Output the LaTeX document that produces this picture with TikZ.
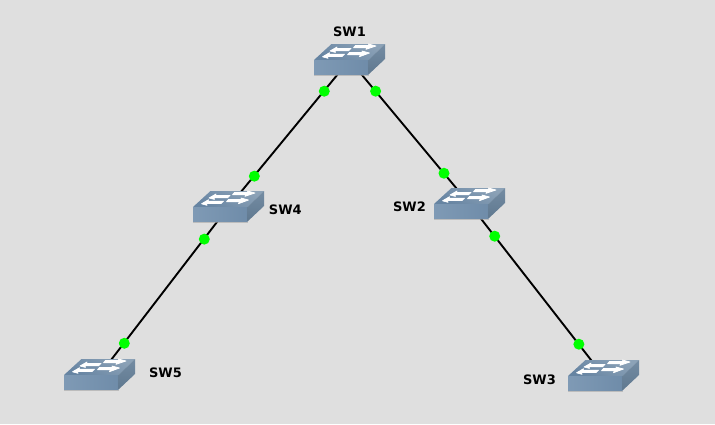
\documentclass[tikz,border=0pt]{standalone}
\usepackage{fontspec}
\setmainfont{DejaVu Sans}
\definecolor{bgc}{HTML}{DFDFDF}
\definecolor{topa}{HTML}{6684A2}
\definecolor{topb}{HTML}{8CA2B7}
\definecolor{fronta}{HTML}{7F9AB5}
\definecolor{frontb}{HTML}{6F8CA9}
\definecolor{sidea}{HTML}{748CA3}
\definecolor{sideb}{HTML}{5F788F}
\definecolor{linkgreen}{HTML}{00FF00}
\tikzset{
  x=1pt,y=-1pt,
  swnode/.style={inner sep=0pt,minimum width=71pt,minimum height=32pt},
  link/.style={draw=black,line width=1.9pt},
  dot/.style={circle,fill=linkgreen,inner sep=0pt,minimum size=11pt,xshift=.3pt,yshift=-.2pt},
  lab/.style={font=\bfseries\fontsize{13}{15}\selectfont,text=black,inner sep=0pt},
  arrowshape/.style={fill=white,draw=white,line width=.7pt,line join=round},
  swicon/.pic={
    % origin = icon centre; icon spans 71x32
    \shade[bottom color=topa,top color=topb,shading angle=-30] (-35.5,0) -- (-18,-16) -- (35.5,-16) -- (19,0) -- cycle;
    \shade[left color=fronta,right color=frontb] (-35.5,0) -- (19,0) -- (19,14.5) -- (-35.5,14.5) -- cycle;
    \shade[top color=sidea,bottom color=sideb] (19,0) -- (35.5,-16) -- (35.5,-1) -- (19,14.5) -- cycle;
    \fill[black!35,opacity=.6] (-35.5,14.5) -- (19,14.5) -- (19,15.6) -- (-35.5,15.6) -- cycle;
    % left-pointing arrows
    \path[arrowshape] (-19.5,-9) -- (-12.5,-13) -- (-13,-11.6) -- (1.5,-11.6) -- (-1,-9.2) -- (-14.5,-9.2) -- (-14,-7.6) -- cycle;
    \path[arrowshape] (-27,-3.2) -- (-20,-7.3) -- (-20.5,-5.9) -- (-5,-5.9) -- (-7.5,-3.5) -- (-22,-3.5) -- (-21.5,-1.7) -- cycle;
    % right-pointing arrows
    \path[arrowshape] (26.5,-14) -- (19,-16) -- (19.5,-14.6) -- (6,-14.6) -- (4,-12.2) -- (17.5,-12.2) -- (16.5,-10.7) -- cycle;
    \path[arrowshape] (20,-7) -- (12.5,-9) -- (13,-7.6) -- (0,-7.6) -- (-2,-5.2) -- (11,-5.2) -- (10,-3.3) -- cycle;
  }
}
\begin{document}
\begin{tikzpicture}
\fill[bgc] (0,0) rectangle (715,424);
\useasboundingbox (0,0) rectangle (715,424);
\node[swnode] (sw1) at (349.5,60) {};
\node[swnode] (sw2) at (469.5,204) {};
\node[swnode] (sw3) at (603.5,376) {};
\node[swnode] (sw4) at (228.5,207) {};
\node[swnode] (sw5) at (99.5,375) {};
\path[link] (sw1.center) -- (sw4.center) node[dot,pos=.211] (d14a) {} node[dot,pos=.789] (d14b) {};
\path[link] (sw1.center) -- (sw2.center) node[dot,pos=.215] (d12a) {} node[dot,pos=.785] (d12b) {};
\path[link] (sw4.center) -- (sw5.center) node[dot,pos=.19] (d45a) {} node[dot,pos=.81] (d45b) {};
\path[link] (sw2.center) -- (sw3.center) node[dot,pos=.186] (d23a) {} node[dot,pos=.814] (d23b) {};
\pic at (sw1.center) {swicon};
\pic at (sw2.center) {swicon};
\pic at (sw3.center) {swicon};
\pic at (sw4.center) {swicon};
\pic at (sw5.center) {swicon};
\node[lab] (l1) at (349.5,32) {SW1};
\node[lab] (l2) at (409.5,207) {SW2};
\node[lab] (l3) at (539.5,380) {SW3};
\node[lab] (l4) at (285.3,210) {SW4};
\node[lab] (l5) at (165.5,373) {SW5};
\end{tikzpicture}
\end{document}
